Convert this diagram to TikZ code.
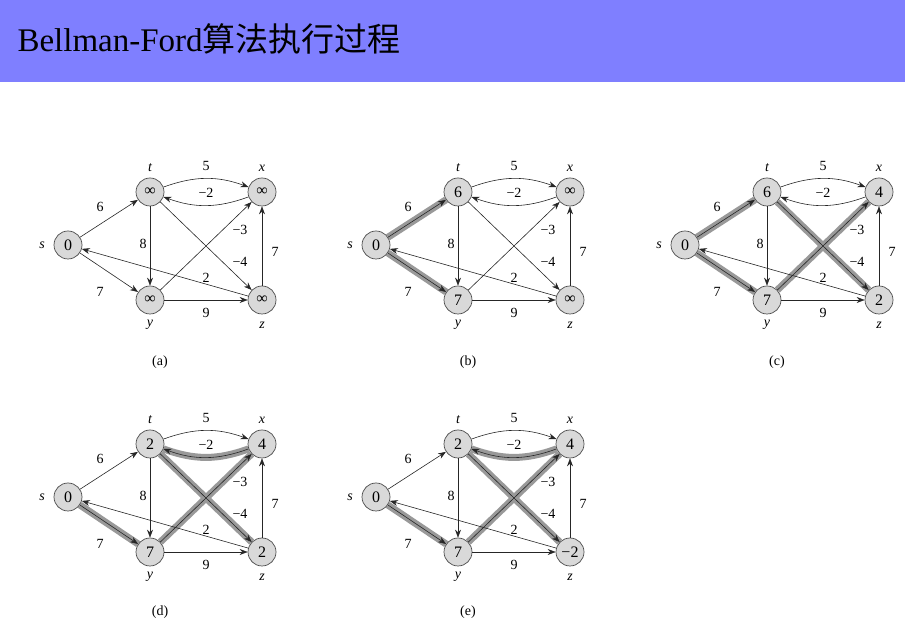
\documentclass[tikz,border=0pt]{standalone}
\usepackage{fontspec}
\setmainfont{Liberation Serif}
\newfontfamily\cjk{Noto Sans CJK SC}
\usetikzlibrary{arrows.meta,backgrounds}
\tikzset{
 vtx/.style={circle,draw=black!70,fill=black!15,line width=0.7pt,minimum size=28pt,inner sep=0pt,font=\fontsize{16}{16}\selectfont},
 edge/.style={-{Stealth[length=8pt,width=6pt]},line width=0.6pt,black!85},
 hl/.style={line width=7pt,black!40},
 lab/.style={font=\fontsize{14}{14}\selectfont},
 nm/.style={font=\fontsize{14}{14}\itshape\selectfont},
}
\newcommand\BFgraph[8]{%
\begin{scope}[shift={(#2,#3)}]
 \node[vtx] (#1s) at (0,0) {#4};
 \node[vtx] (#1t) at (82,53) {#5};
 \node[vtx] (#1x) at (194,53) {#6};
 \node[vtx] (#1y) at (82,-55) {#7};
 \node[vtx] (#1z) at (194,-55) {#8};
 \node[nm] (#1ls) at (-26,0) {s};
 \node[nm] (#1lt) at (82,77) {t};
 \node[nm] (#1lx) at (194,77) {x};
 \node[nm] (#1ly) at (82,-80) {y};
 \node[nm] (#1lz) at (194,-80) {z};
 \draw[edge] (#1s) -- (#1t);
 \draw[edge] (#1s) -- (#1y);
 \draw[edge] (#1t) to[out=20,in=160] (#1x);
 \draw[edge] (#1x) to[out=-160,in=-20] (#1t);
 \draw[edge] (#1t) -- (#1y);
 \draw[edge] (#1t) -- (#1z);
 \draw[edge] (#1y) -- (#1x);
 \draw[edge] (#1y) -- (#1z);
 \draw[edge] (#1z) -- (#1x);
 \draw[edge] (#1z) -- (#1s);
 \node[lab] (#1e1) at (32,38) {6};
 \node[lab] (#1e2) at (32,-47) {7};
 \node[lab] (#1e3) at (138,79) {5};
 \node[lab] (#1e4) at (138,52) {−2};
 \node[lab] (#1e5) at (75,1) {8};
 \node[lab] (#1e6) at (172,15) {−3};
 \node[lab] (#1e7) at (172,-17) {−4};
 \node[lab] (#1e8) at (207,-7) {7};
 \node[lab] (#1e9) at (138,-33) {2};
 \node[lab] (#1e10) at (138,-68) {9};
\end{scope}}
\begin{document}
\begin{tikzpicture}[x=1pt,y=1pt]
\useasboundingbox (0,0) rectangle (905,637);
\fill[fill={rgb,255:red,127;green,127;blue,255}] (0,555) rectangle (905,637);
\node[anchor=west,font=\fontsize{33}{33}\selectfont] (title) at (14,598) {Bellman-Ford{\cjk 算法执行过程}};
\BFgraph{a}{68}{392}{0}{∞}{∞}{∞}{∞}
\BFgraph{b}{376}{392}{0}{6}{∞}{7}{∞}
\BFgraph{c}{685}{392}{0}{6}{4}{7}{2}
\BFgraph{d}{68}{140}{0}{2}{4}{7}{2}
\BFgraph{e}{376}{140}{0}{2}{4}{7}{−2}
\begin{scope}[on background layer]
 \draw[hl] (bs) -- (bt); \draw[hl] (bs) -- (by);
 \draw[hl] (cs) -- (ct); \draw[hl] (cs) -- (cy); \draw[hl] (cy) -- (cx); \draw[hl] (ct) -- (cz);
 \draw[hl] (ds) -- (dy); \draw[hl] (dy) -- (dx); \draw[hl] (dx) to[out=-160,in=-20] (dt); \draw[hl] (dt) -- (dz);
 \draw[hl] (es) -- (ey); \draw[hl] (ey) -- (ex); \draw[hl] (ex) to[out=-160,in=-20] (et); \draw[hl] (et) -- (ez);
\end{scope}
\node[lab] (capa) at (160,275) {(a)};
\node[lab] (capb) at (468,275) {(b)};
\node[lab] (capc) at (777,275) {(c)};
\node[lab] (capd) at (160,25) {(d)};
\node[lab] (cape) at (468,25) {(e)};
\end{tikzpicture}
\end{document}
